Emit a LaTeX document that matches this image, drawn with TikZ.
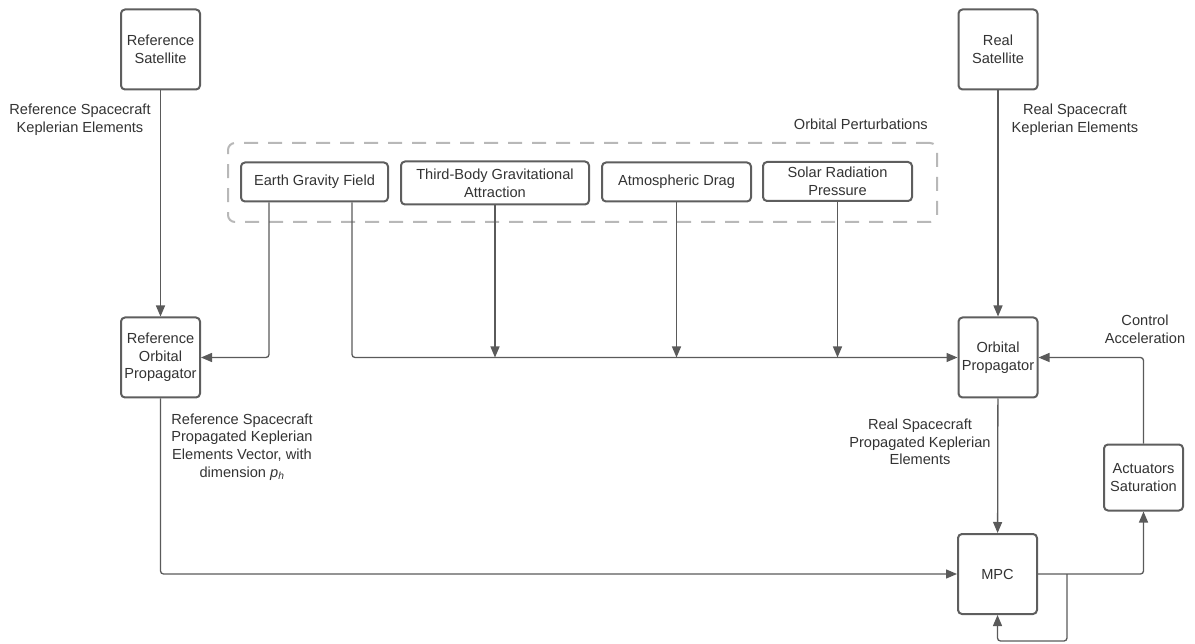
\documentclass[tikz,border=0pt]{standalone}
\usepackage{fontspec}
\setmainfont{Liberation Sans}
\usepackage{xcolor}
\usepackage{tikz}
\usetikzlibrary{positioning,arrows.meta}
\definecolor{boxgray}{HTML}{5E5E5E}
\definecolor{linegray}{HTML}{5A5A5A}
\definecolor{txtgray}{HTML}{333333}
\definecolor{dashgray}{HTML}{B8B8B8}

\begin{document}
\begin{tikzpicture}[
			x=1pt, y=-1pt,
			font=\fontsize{14.6}{17.6}\selectfont,
			block/.style={draw=boxgray, line width=2pt, rounded corners=4pt, fill=white, text=txtgray, minimum width=79pt, minimum height=80pt, inner sep=1pt, align=center},
			pert/.style={block, minimum height=39pt},
			group/.style={draw=dashgray, line width=2pt, dash pattern=on 14pt off 10pt, rounded corners=7pt},
			lbl/.style={text=txtgray, align=center, inner sep=0pt},
			conn/.style={draw=linegray, line width=1.3pt, rounded corners=3pt, -{Triangle[length=11pt,width=9pt]}},
		]

			\useasboundingbox (0,0) rectangle (1195,644);

			% satellites and propagators
			\node[block] (refsat) at (160.5,49.5) {Reference\\Satellite};
			\node[block] (realsat) at (998,49.5) {Real\\Satellite};
			\node[block] (refprop) at (160.5,357.5) {Reference\\Orbital\\Propagator};
			\node[block] (orbprop) at (998,357.5) {Orbital\\Propagator};
			\node[block] (mpc) at (997.5,574) {MPC};
			\node[block, minimum height=66pt] (act) at (1143.5,477.5) {Actuators\\Saturation};

			% perturbations
			\node[group, minimum width=709pt, minimum height=79pt] (perturb) at (582.5,182.5) {};
			\node[lbl, above left=12pt and 10pt of perturb.north east] (perturbtitle) {Orbital Perturbations};
			\node[pert, minimum width=147pt] (earth) at (314.5,182) {Earth Gravity Field};
			\node[pert, minimum width=188pt, minimum height=43pt] (third) at (495,183) {Third-Body Gravitational\\Attraction};
			\node[pert, minimum width=149pt] (atmos) at (676.5,182) {Atmospheric Drag};
			\node[pert, minimum width=149pt] (solar) at (837.5,181.5) {Solar Radiation\\Pressure};

			% labels
			\node[lbl] (refkep) at (80,120) {Reference Spacecraft\\Keplerian Elements};
			\node[lbl] (realkep) at (1075,120) {Real Spacecraft\\Keplerian Elements};
			\node[lbl] (ctrl) at (1145,329) {Control\\Acceleration};
			\node[lbl] (refvec) at (242,447) {Reference Spacecraft\\Propagated Keplerian\\Elements Vector, with\\dimension \textit{p}\textsubscript{\textit{h}}};
			\node[lbl] (realvec) at (920,442) {Real Spacecraft\\Propagated Keplerian\\Elements};

			\coordinate (loop) at (1067,641);

			\draw[conn] (refsat) -- (refprop);
			\draw[conn] (realsat) -- (orbprop);
			\draw[conn] (orbprop) -- (mpc);
			\draw[conn] ([xshift=-45.5pt]earth.south) |- (refprop.east);
			\draw[conn] ([xshift=37.5pt]earth.south) |- (orbprop.west);
			\draw[conn] (third) -- (third |- orbprop.west);
			\draw[conn] (atmos) -- (atmos |- orbprop.west);
			\draw[conn] (solar) -- (solar |- orbprop.west);
			\draw[conn] (refprop) |- (mpc.west);
			\draw[conn] (mpc.east) -| (act.south);
			\draw[conn] (act.north) |- (orbprop.east);
			\draw[conn] (mpc.east -| loop) -- (loop) -| (mpc.south);

		\end{tikzpicture}
\end{document}
